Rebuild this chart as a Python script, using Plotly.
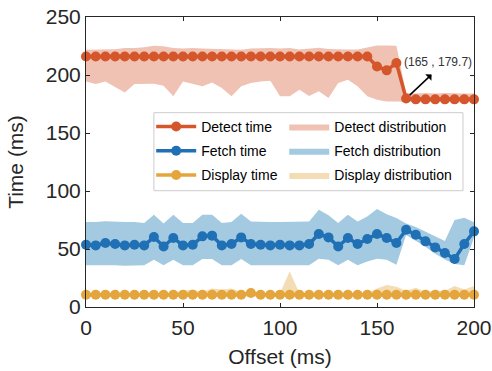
import plotly.graph_objects as go

offset = list(range(0, 201, 5))

detect_time = [216]*30 + [207.4, 204.0, 210.3, 179.7, 179, 179, 179, 179, 179, 179, 179]
detect_upper = [221.8, 221.8, 221.8, 222.3, 223.3, 223.3, 224.0, 225.3, 224.8, 223.3,
                222.8, 223.3, 222.8, 222.5, 221.8, 221.8, 221.8, 222.8, 223.3, 223.3,
                222.8, 223.3, 222.0, 223.0, 223.5, 222.5, 222.0, 222.0, 222.0, 223.5,
                225.5, 225.5, 225.3, 184.5, 184, 184.5, 184, 184.5, 184, 184, 184]
detect_lower = [194.5, 192.2, 194.5, 189.6, 185.0, 192.2, 192.2, 192.5, 190.8, 181.6,
                194.5, 192.5, 190.2, 193.6, 188.8, 181.6, 190.2, 193.0, 194.5, 195.1,
                181.6, 181.6, 187.3, 182.0, 185.9, 180.2, 193.1, 196.0, 190.2, 181.6,
                178.7, 177.2, 177.2, 177.0, 176.5, 176.5, 176.5, 176.5, 176.5, 176.5, 176.5]

fetch_time = [53.7, 53.1, 55.2, 54.3, 53.1, 53.7, 53.1, 60.3, 52.2, 59.5,
              53.1, 53.7, 60.9, 61.5, 53.1, 54.3, 60.0, 54.3, 53.7, 53.1,
              53.7, 53.1, 53.1, 54.3, 62.9, 60.0, 52.2, 59.5, 54.3, 58.6,
              62.9, 59.5, 55.2, 66.6, 62.3, 56.6, 51.4, 46.5, 41.4, 54.3, 65.2]
fetch_upper = [73.3, 73.3, 74.0, 73.5, 73.3, 73.3, 72.4, 79.6, 72.0, 79.6,
               72.4, 72.4, 79.6, 79.6, 72.4, 73.3, 80.4, 73.8, 73.3, 73.3,
               73.3, 73.3, 73.3, 73.8, 83.9, 79.0, 72.4, 79.6, 73.8, 78.0,
               84.5, 80.0, 76.7, 72.0, 69.0, 65.0, 61.0, 57.0, 75.0, 77.0, 73.0]
fetch_lower = [35.9, 35.9, 36.0, 35.9, 35.5, 35.5, 35.9, 40.8, 35.9, 40.8,
               35.9, 36.0, 41.4, 41.4, 35.9, 35.9, 41.4, 35.9, 35.9, 35.9,
               35.9, 35.9, 35.9, 35.9, 41.6, 40.8, 35.9, 40.8, 35.9, 39.3,
               41.6, 40.8, 36.5, 62.0, 57.0, 52.0, 46.0, 41.0, 37.0, 36.0, 60.0]

display_time = [10.6]*17 + [12.0] + [10.6]*23
display_upper = [12, 12, 12, 12, 12, 12, 12, 12, 12, 12,
                 14, 15, 13, 16, 15, 16, 13, 12, 12, 12,
                 12, 30.7, 12, 12, 12, 12, 12, 12, 12, 12,
                 16, 19, 17.5, 14, 16.5, 13, 14, 14, 18, 15, 18]
display_lower = [9.0]*41

fig = go.Figure()

C_DET, C_FET, C_DIS = "#D5562B", "#1F70B5", "#E4A63C"
F_DET, F_FET, F_DIS = "#EFC2B3", "#A3CAE0", "#F4DDB5"

def band(up, lo, color, name, rank):
    return go.Scatter(x=offset + offset[::-1], y=up + lo[::-1], fill="toself",
                      fillcolor=color, line=dict(width=0, color=color), mode="lines",
                      name=name, legendrank=rank, legend="legend2",
                      legendgroup=name, hoverinfo="skip")

fig.add_trace(band(detect_upper, detect_lower, F_DET, "Detect distribution", 1))
fig.add_trace(band(fetch_upper, fetch_lower, F_FET, "Fetch distribution", 2))
fig.add_trace(band(display_upper, display_lower, F_DIS, "Display distribution", 3))

def line(y, color, name, rank):
    return go.Scatter(x=offset, y=y, mode="lines+markers", name=name, legendrank=rank,
                      legend="legend", legendgroup=name,
                      line=dict(color=color, width=3.5),
                      marker=dict(color=color, size=10), cliponaxis=False)

fig.add_trace(line(detect_time, C_DET, "Detect time", 1))
fig.add_trace(line(fetch_time, C_FET, "Fetch time", 2))
fig.add_trace(line(display_time, C_DIS, "Display time", 3))

# annotation at the drop point
px, py = offset[33], detect_time[33]
fig.add_annotation(x=px, y=py, text="", showarrow=True, arrowside="start",
                   ax=27, ay=-25.5, axref="pixel", ayref="pixel", standoff=5,
                   arrowhead=2, arrowsize=1, arrowwidth=1.5, arrowcolor="#000000")
fig.add_annotation(x=px, y=py, text=f"({px} , {py})", showarrow=False,
                   xshift=32, yshift=37, xanchor="center", yanchor="middle",
                   font=dict(size=12, color="#333333", family="Liberation Sans, Arial"))

# legend frame
fig.add_shape(type="rect", xref="paper", yref="paper", x0=0.175, x1=0.9716,
              y0=0.401, y1=0.670, fillcolor="white", line=dict(color="#CCCCCC", width=1),
              layer="above")

axis_common = dict(showline=True, linecolor="#262626", linewidth=1, mirror="ticks",
                   ticks="inside", ticklen=4, tickcolor="#262626", showgrid=False,
                   zeroline=False, automargin=False,
                   tickfont=dict(size=21, color="#262626"),
                   title_font=dict(size=21, color="#262626"))

fig.update_xaxes(range=[0, 200], tickvals=[0, 50, 100, 150, 200],
                 title_text="Offset (ms)", title_standoff=11, ticklabelstandoff=2,
                 **axis_common)
fig.update_yaxes(range=[0, 250], tickvals=[0, 50, 100, 150, 200, 250],
                 title_text="Time (ms)", title_standoff=16, **axis_common)

leg_common = dict(orientation="v", xanchor="left", yanchor="top", itemwidth=40,
                  bgcolor="rgba(0,0,0,0)", borderwidth=0, tracegroupgap=3,
                  font=dict(size=14, color="#000000"), traceorder="grouped")

fig.update_layout(
    width=492, height=371,
    margin=dict(l=86, r=18, t=17, b=64, autoexpand=False),
    paper_bgcolor="white", plot_bgcolor="white",
    font=dict(family="Liberation Sans, Arial", color="#262626"),
    showlegend=True,
    legend=dict(x=0.168, y=0.676, **leg_common),
    legend2=dict(x=0.511, y=0.676, **leg_common),
)

fig.write_html("out.html")
